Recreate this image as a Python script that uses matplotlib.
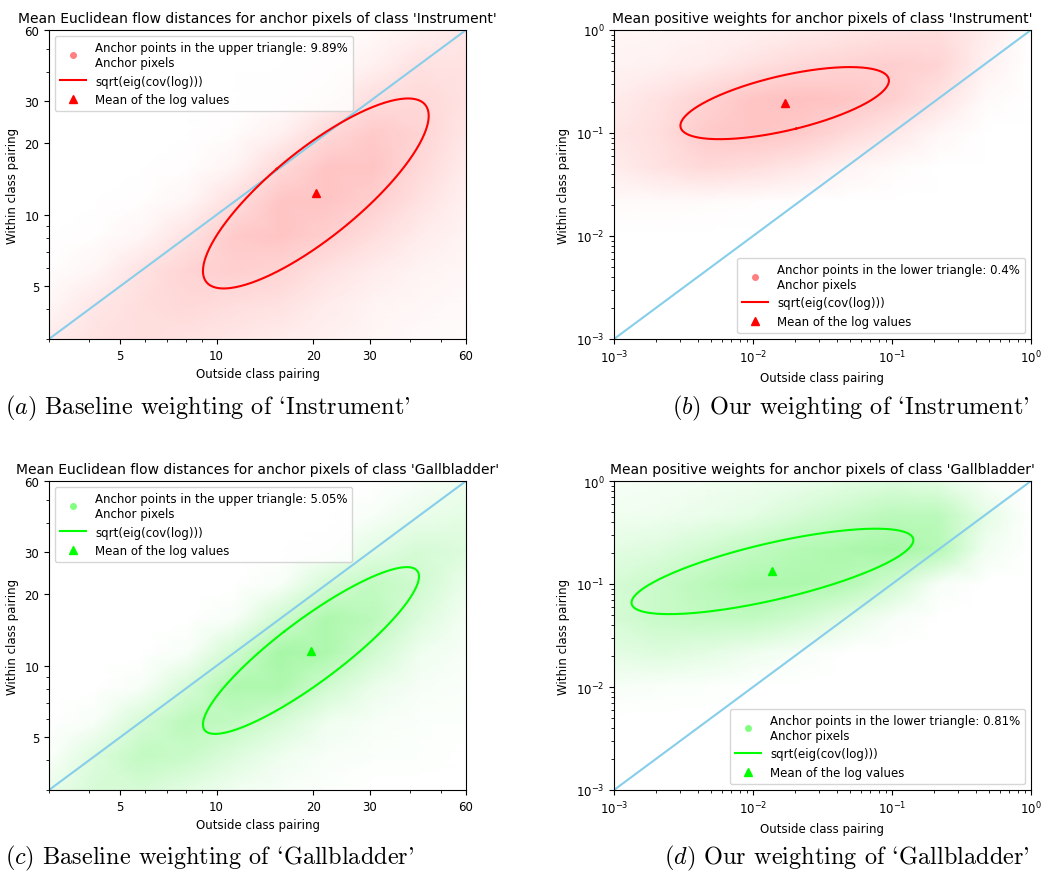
import numpy as np
import matplotlib
matplotlib.use("Agg")
import matplotlib.pyplot as plt
from matplotlib.colors import LinearSegmentedColormap
from matplotlib.lines import Line2D
from matplotlib.ticker import FixedLocator, FixedFormatter, LogLocator, NullFormatter

# ---------------- data ----------------
titles = [
    "Mean Euclidean flow distances for anchor pixels of class 'Instrument'",
    "Mean positive weights for anchor pixels of class 'Instrument'",
    "Mean Euclidean flow distances for anchor pixels of class 'Gallbladder'",
    "Mean positive weights for anchor pixels of class 'Gallbladder'",
]
captions = [
    r"$(a)$ Baseline weighting of `Instrument'",
    r"$(b)$ Our weighting of `Instrument'",
    r"$(c)$ Baseline weighting of `Gallbladder'",
    r"$(d)$ Our weighting of `Gallbladder'",
]
triangle_labels = [
    "Anchor points in the upper triangle: 9.89%",
    "Anchor points in the lower triangle: 0.4%",
    "Anchor points in the upper triangle: 5.05%",
    "Anchor points in the lower triangle: 0.81%",
]
dist_lim = (3, 60)
dist_ticks = [5, 10, 20, 30, 60]
weight_lim = (1e-3, 1)

# mean of the log values (natural units) and covariance of log10 values
means = [(20.4, 12.3), (0.0169, 0.195), (19.7, 11.6), (0.0138, 0.1325)]
covs = [
    [[0.124, 0.115], [0.115, 0.160]],
    [[0.5625, 0.164], [0.164, 0.1225]],
    [[0.1136, 0.105], [0.105, 0.1233]],
    [[1.028, 0.308], [0.308, 0.172]],
]

# relative point density of the anchor cloud, 10x10 nodes over the axes
# (rows listed top -> bottom, columns left -> right)
dens_a = [
    [0, 0, 0, 0, 0, 0, 0, .05, .15, .25],
    [0, 0, 0, 0, 0, 0, .05, .15, .3, .3],
    [0, 0, 0, 0, 0, .03, .15, .35, .4, .3],
    [0, 0, 0, 0, .03, .15, .4, .55, .45, .25],
    [0, 0, 0, .02, .12, .4, .6, .6, .4, .2],
    [0, 0, .02, .1, .35, .6, .6, .5, .3, .15],
    [0, .02, .1, .3, .55, .6, .5, .35, .2, .12],
    [.02, .1, .3, .45, .5, .45, .3, .2, .12, .08],
    [.08, .25, .35, .4, .35, .3, .2, .12, .08, .05],
    [.2, .3, .35, .3, .25, .2, .15, .1, .06, .04],
]
dens_b = [
    [.08, .1, .12, .15, .2, .25, .3, .35, .2, 0],
    [.12, .15, .2, .3, .4, .45, .5, .45, .15, 0],
    [.2, .3, .45, .6, .65, .6, .5, .3, .05, 0],
    [.25, .35, .55, .6, .55, .4, .25, .08, 0, 0],
    [.2, .3, .4, .35, .25, .12, .04, 0, 0, 0],
    [.05, .05, .04, .02, 0, 0, 0, 0, 0, 0],
    [0, 0, 0, 0, 0, 0, 0, 0, 0, 0],
    [0, 0, 0, 0, 0, 0, 0, 0, 0, 0],
    [0, 0, 0, 0, 0, 0, 0, 0, 0, 0],
    [0, 0, 0, 0, 0, 0, 0, 0, 0, 0],
]
dens_c = [
    [0, 0, 0, 0, 0, 0, 0, 0, .05, .12],
    [0, 0, 0, 0, 0, 0, 0, .05, .15, .2],
    [0, 0, 0, 0, 0, 0, .05, .2, .3, .25],
    [0, 0, 0, 0, 0, .05, .3, .45, .35, .15],
    [0, 0, 0, 0, .05, .35, .6, .5, .25, .08],
    [0, 0, 0, .05, .35, .65, .6, .35, .12, .05],
    [0, 0, .05, .3, .6, .6, .35, .15, .06, .03],
    [0, .05, .3, .5, .45, .3, .12, .06, .03, .02],
    [.03, .25, .45, .4, .25, .12, .05, .03, .02, 0],
    [.15, .3, .3, .2, .1, .05, .02, 0, 0, 0],
]
dens_d = [
    [.05, .08, .1, .12, .15, .2, .25, .2, .05, 0],
    [.1, .12, .15, .2, .3, .4, .5, .5, .2, 0],
    [.2, .25, .35, .45, .55, .6, .65, .55, .1, 0],
    [.3, .4, .5, .6, .6, .55, .35, .05, 0, 0],
    [.3, .4, .45, .45, .35, .2, .05, 0, 0, 0],
    [.2, .25, .2, .12, .05, 0, 0, 0, 0, 0],
    [.05, .04, .02, 0, 0, 0, 0, 0, 0, 0],
    [0, 0, 0, 0, 0, 0, 0, 0, 0, 0],
    [0, 0, 0, 0, 0, 0, 0, 0, 0, 0],
    [0, 0, 0, 0, 0, 0, 0, 0, 0, 0],
]
densities = [dens_a, dens_b, dens_c, dens_d]

# ---------------- styling ----------------
RED, GREEN = "#ff0000", "#00ff00"
panel_color = [RED, RED, GREEN, GREEN]
cloud_color = {RED: "#ff8c8c", GREEN: "#8cf58c"}
cloud_vmax = {RED: 1.2, GREEN: 0.85}
marker_color = {RED: "#ff8080", GREEN: "#80ff80"}

fig = plt.figure(figsize=(10.41, 8.78), dpi=100)
W, H = 1041, 878
boxes = [(49, 31), (614, 31), (49, 482), (614, 482)]  # left, top in px
AW, AH = 417, 309


def ellipse_xy(mean, cov):
    mu = np.log10(mean)
    vals, vecs = np.linalg.eigh(np.asarray(cov))
    t = np.linspace(0, 2 * np.pi, 300)
    pts = vecs @ (np.sqrt(vals)[:, None] * np.vstack([np.cos(t), np.sin(t)]))
    return 10 ** (mu[0] + pts[0]), 10 ** (mu[1] + pts[1])


for k in range(4):
    left, top = boxes[k]
    ax = fig.add_axes([left / W, 1 - (top + AH) / H, AW / W, AH / H])
    col = panel_color[k]
    is_dist = k % 2 == 0
    lo, hi = dist_lim if is_dist else weight_lim

    ax.set_xscale("log")
    ax.set_yscale("log")

    # anchor-pixel cloud as density shading
    nodes = np.logspace(np.log10(lo), np.log10(hi), 10)
    X, Y = np.meshgrid(nodes, nodes)
    C = np.flipud(np.array(densities[k], float))
    cmap = LinearSegmentedColormap.from_list("c", ["white", cloud_color[col]])
    ax.pcolormesh(X, Y, C, shading="gouraud", cmap=cmap, vmin=0,
                  vmax=cloud_vmax[col], zorder=0, rasterized=True)

    ax.plot([lo, hi], [lo, hi], color="skyblue", lw=1.5, zorder=1)
    ex, ey = ellipse_xy(means[k], covs[k])
    ax.plot(ex, ey, color=col, lw=1.5, zorder=2)
    ax.plot(*means[k], "^", color=col, ms=6, zorder=3)

    ax.set_xlim(lo, hi)
    ax.set_ylim(lo, hi)
    if is_dist:
        for axis in (ax.xaxis, ax.yaxis):
            axis.set_major_locator(FixedLocator(dist_ticks))
            axis.set_major_formatter(FixedFormatter([str(t) for t in dist_ticks]))
            axis.set_minor_locator(LogLocator(base=10, subs=np.arange(2, 10)))
            axis.set_minor_formatter(NullFormatter())
    ax.tick_params(labelsize=8.5)

    ax.set_title(titles[k], fontsize=10, pad=6)
    ax.set_xlabel("Outside class pairing", fontsize=8.5)
    ax.set_ylabel("Within class pairing", fontsize=8.5)

    handles = [
        Line2D([], [], ls="none", marker="o", ms=4, color=marker_color[col]),
        Line2D([], [], color=col, lw=1.5),
        Line2D([], [], ls="none", marker="^", ms=6, color=col),
    ]
    labels = [triangle_labels[k] + "\nAnchor pixels", "sqrt(eig(cov(log)))",
              "Mean of the log values"]
    ax.legend(handles, labels, loc="upper left" if is_dist else "lower right",
              fontsize=8.5, handlelength=2.2)

    # sub-figure caption
    cy = 1 - (408 if k < 2 else 858) / H
    if k % 2 == 0:
        fig.text(5 / W, cy, captions[k], ha="left", va="center", fontsize=17.5,
                 family="cmr10", math_fontfamily="cm")
    else:
        fig.text(1030 / W, cy, captions[k], ha="right", va="center", fontsize=17.5,
                 family="cmr10", math_fontfamily="cm")

fig.savefig("out.png", dpi=100)
